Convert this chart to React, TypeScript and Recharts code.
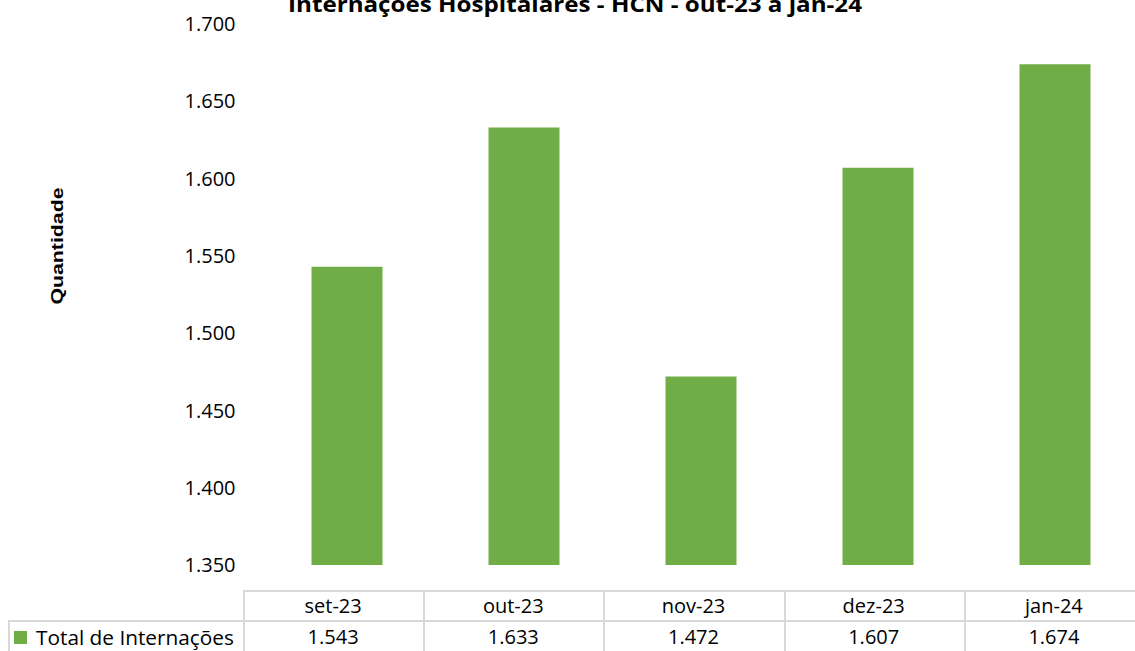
import { BarChart, Bar, XAxis, YAxis } from "recharts";

const months = ["set-23", "out-23", "nov-23", "dez-23", "jan-24"];
const totals = [1543, 1633, 1472, 1607, 1674];
const yTicks = [1350, 1400, 1450, 1500, 1550, 1600, 1650, 1700];

const seriesName = "Total de Internações";
const title = "Internações Hospitalares - HCN - out-23 a jan-24";

const data = months.map((m, i) => ({ month: m, total: totals[i] }));

const GREEN = "#70AD47";
const GRID = "#d9d9d9";
const FONT = "'Open Sans', sans-serif";

const fmt = (v: number) =>
  `${Math.floor(v / 1000)}.${String(v % 1000).padStart(3, "0")}`;

// table sits under the plot, a bit offset from the bar bands (as in the source)
const tableLeft = 243;
const colW = 180.2;
const headTop = 590;
const rowTop = 620;
const rowH = 30;

export default function App() {
  return (
    <div
      style={{
        position: "absolute",
        left: 0,
        top: 0,
        width: 1135,
        height: 651,
        overflow: "hidden",
        background: "#fff",
        fontFamily: FONT,
      }}
    >
      <BarChart
        width={1150}
        height={651}
        data={data}
        margin={{ top: 24, right: 6.5, bottom: 86, left: 0 }}
      >
        <XAxis dataKey="month" hide />
        <YAxis
          width={258.5}
          domain={[1350, 1700]}
          ticks={yTicks}
          tickFormatter={fmt}
          axisLine={false}
          tickLine={false}
          tickSize={0}
          tickMargin={23}
          tick={{ fill: "#000", fontSize: 20, fontFamily: FONT }}
        />
        <Bar dataKey="total" fill={GREEN} barSize={71} isAnimationActive={false} />
      </BarChart>

      <svg
        width={1135}
        height={651}
        style={{ position: "absolute", left: 0, top: 0, pointerEvents: "none" }}
      >
        <text
          x={575}
          y={12}
          textAnchor="middle"
          fontFamily={FONT}
          fontWeight="bold"
          fontSize={21}
          textLength={574}
          lengthAdjust="spacingAndGlyphs"
        >
          {title}
        </text>
        <text
          x={0}
          y={0}
          transform="translate(63 246) rotate(-90)"
          textAnchor="middle"
          fontFamily="'Liberation Sans', Arial, sans-serif"
          fontWeight="bold"
          fontSize={17}
          textLength={117}
          lengthAdjust="spacingAndGlyphs"
        >
          Quantidade
        </text>
      </svg>

      {/* data table */}
      <div
        style={{
          position: "absolute",
          left: tableLeft,
          top: headTop,
          width: 1200,
          borderTop: `2px solid ${GRID}`,
        }}
      />
      <div
        style={{
          position: "absolute",
          left: 8,
          top: rowTop,
          width: 1200,
          borderTop: `2px solid ${GRID}`,
        }}
      />
      <div
        style={{
          position: "absolute",
          left: 8,
          top: rowTop,
          height: rowH + 20,
          borderLeft: `2px solid ${GRID}`,
        }}
      />
      {months.map((m, i) => (
        <div key={m}>
          <div
            style={{
              position: "absolute",
              left: tableLeft + i * colW,
              top: headTop,
              width: colW,
              height: rowH * 2 + 20,
              borderLeft: `2px solid ${GRID}`,
              boxSizing: "border-box",
            }}
          />
          <div
            style={{
              position: "absolute",
              left: tableLeft + i * colW,
              top: headTop + 1,
              width: colW,
              height: rowH,
              lineHeight: `${rowH}px`,
              textAlign: "center",
              fontSize: 20,
            }}
          >
            {m}
          </div>
          <div
            style={{
              position: "absolute",
              left: tableLeft + i * colW,
              top: rowTop + 2,
              width: colW,
              height: rowH,
              lineHeight: `${rowH}px`,
              textAlign: "center",
              fontSize: 20,
            }}
          >
            {fmt(totals[i])}
          </div>
        </div>
      ))}
      <div
        style={{
          position: "absolute",
          left: 14,
          top: rowTop + 2,
          height: rowH,
          lineHeight: `${rowH}px`,
          fontSize: 20.8,
          whiteSpace: "nowrap",
          display: "flex",
          alignItems: "center",
        }}
      >
        <span
          style={{
            display: "inline-block",
            width: 13,
            height: 13,
            background: GREEN,
            marginRight: 9,
          }}
        />
        {seriesName}
      </div>
    </div>
  );
}
